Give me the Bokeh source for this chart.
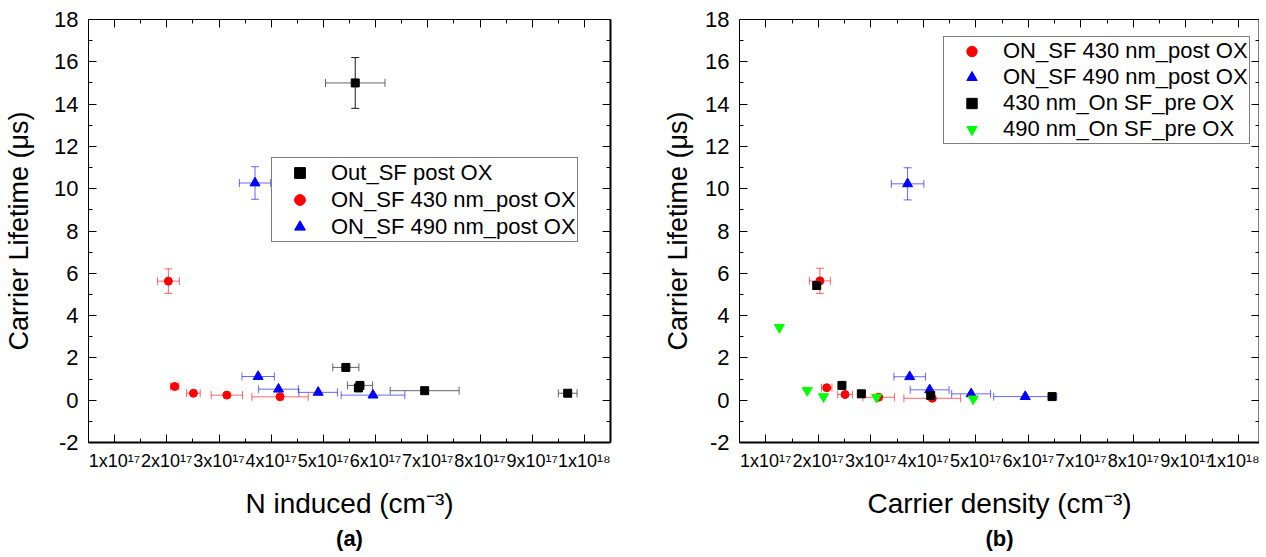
from bokeh.plotting import figure
from bokeh.models import (ColumnDataSource, Whisker, TeeHead, FixedTicker, LinearAxis,
                          Range1d, Legend, LegendItem, Title)
from bokeh.layouts import row
from bokeh.embed import file_html
from bokeh.resources import INLINE

FONT = "Liberation Sans"

# ---------------- ticks ----------------
x_ticks = [1e17, 2e17, 3e17, 4e17, 5e17, 6e17, 7e17, 8e17, 9e17, 1e18]
x_minor = [1.5e17, 2.5e17, 3.5e17, 4.5e17, 5.5e17, 6.5e17, 7.5e17, 8.5e17, 9.5e17]
x_tick_labels = ["1x10¹⁷", "2x10¹⁷", "3x10¹⁷", "4x10¹⁷", "5x10¹⁷",
                 "6x10¹⁷", "7x10¹⁷", "8x10¹⁷", "9x10¹⁷", "1x10¹⁸"]
y_ticks = [-2, 0, 2, 4, 6, 8, 10, 12, 14, 16, 18]
y_minor = [-1, 1, 3, 5, 7, 9, 11, 13, 15, 17]

# ---------------- panel (a) data ----------------
a_out_x = [5.61e17, 5.43e17, 5.70e17, 5.67e17, 6.94e17, 9.68e17]
a_out_y = [15.0, 1.55, 0.70, 0.58, 0.45, 0.33]
a_out_xerr = [0.57e17, 0.25e17, 0.24e17, 0.0, 0.66e17, 0.18e17]
a_out_yerr = [1.2, 0, 0, 0, 0, 0]

a_430_x = [2.03e17, 2.15e17, 2.51e17, 3.15e17, 4.17e17]
a_430_y = [5.63, 0.65, 0.33, 0.24, 0.16]
a_430_xerr = [0.21e17, 0.08e17, 0.13e17, 0.30e17, 0.54e17]
a_430_yerr = [0.58, 0, 0, 0, 0]

a_490_x = [3.69e17, 3.75e17, 4.14e17, 4.90e17, 5.95e17]
a_490_y = [10.27, 1.12, 0.52, 0.37, 0.24]
a_490_xerr = [0.30e17, 0.31e17, 0.38e17, 0.37e17, 0.61e17]
a_490_yerr = [0.77, 0, 0, 0, 0]

# ---------------- panel (b) data ----------------
b_430_x = [2.03e17, 2.16e17, 2.51e17, 3.15e17, 4.17e17]
b_430_y = [5.64, 0.59, 0.27, 0.14, 0.09]
b_430_xerr = [0.20e17, 0.10e17, 0.14e17, 0.30e17, 0.54e17]
b_430_yerr = [0.60, 0, 0, 0, 0]

b_490_x = [3.70e17, 3.74e17, 4.12e17, 4.91e17, 5.94e17]
b_490_y = [10.23, 1.11, 0.49, 0.30, 0.17]
b_490_xerr = [0.31e17, 0.30e17, 0.37e17, 0.37e17, 0.60e17]
b_490_yerr = [0.76, 0, 0, 0, 0]

b_pre430_x = [1.97e17, 2.45e17, 2.82e17, 4.14e17, 6.45e17]
b_pre430_y = [5.42, 0.70, 0.30, 0.22, 0.17]

b_pre490_x = [1.26e17, 1.79e17, 2.10e17, 3.11e17, 4.95e17]
b_pre490_y = [3.44, 0.46, 0.17, 0.14, 0.06]


def style_axis(ax, ticks, minor, labels=None, lw=1):
    ax.ticker = FixedTicker(ticks=ticks, minor_ticks=minor)
    ax.axis_line_color = "black"
    ax.axis_line_width = lw
    ax.major_tick_line_color = "black"
    ax.minor_tick_line_color = "black"
    ax.major_tick_in = 8
    ax.major_tick_out = 0
    ax.minor_tick_in = 4
    ax.minor_tick_out = 0
    ax.major_label_text_color = "black"
    ax.major_label_text_font = FONT
    if labels is None:
        ax.major_label_overrides = {t: "" for t in ticks}
        ax.major_label_text_font_size = "0px"
        ax.major_label_standoff = 0
    else:
        ax.major_label_overrides = labels


def add_errors(p, xs, ys, xerr, yerr, hcolor, vcolor, alpha):
    hx = [(y, x - e, x + e) for x, y, e in zip(xs, ys, xerr) if e > 0]
    if hx:
        src = ColumnDataSource(dict(base=[h[0] for h in hx], lower=[h[1] for h in hx],
                                    upper=[h[2] for h in hx]))
        p.add_layout(Whisker(source=src, base="base", lower="lower", upper="upper",
                             dimension="width", line_color=hcolor, line_alpha=alpha, line_width=1,
                             upper_head=TeeHead(size=8, line_color=hcolor, line_alpha=alpha, line_width=1),
                             lower_head=TeeHead(size=8, line_color=hcolor, line_alpha=alpha, line_width=1)))
    vy = [(x, y - e, y + e) for x, y, e in zip(xs, ys, yerr) if e > 0]
    if vy:
        src = ColumnDataSource(dict(base=[v[0] for v in vy], lower=[v[1] for v in vy],
                                    upper=[v[2] for v in vy]))
        p.add_layout(Whisker(source=src, base="base", lower="lower", upper="upper",
                             dimension="height", line_color=vcolor, line_alpha=alpha, line_width=1,
                             upper_head=TeeHead(size=8, line_color=vcolor, line_alpha=alpha, line_width=1),
                             lower_head=TeeHead(size=8, line_color=vcolor, line_alpha=alpha, line_width=1)))


def make_fig(width, x_end, mbl, mbr, mbb, xlabel, ylabel, ylab_standoff, tag):
    p = figure(width=width, height=557, x_range=Range1d(0.5e17, x_end), y_range=Range1d(-2, 18),
               output_backend="svg", toolbar_location=None, x_axis_type=None, y_axis_type=None,
               min_border_left=mbl, min_border_right=mbr, min_border_top=19, min_border_bottom=mbb)
    p.outline_line_color = None
    p.background_fill_color = "white"
    p.border_fill_color = "white"

    xb = LinearAxis()
    style_axis(xb, x_ticks, x_minor, dict(zip(x_ticks, x_tick_labels)), lw=2)
    xb.major_label_text_font_size = "18px"
    xb.major_label_standoff = 8
    xb.axis_label = xlabel
    xb.axis_label_text_font = FONT
    xb.axis_label_text_font_size = "28px"
    xb.axis_label_text_font_style = "normal"
    xb.axis_label_text_color = "black"
    xb.axis_label_standoff = 14
    p.add_layout(xb, "below")

    yl = LinearAxis()
    style_axis(yl, y_ticks, y_minor, {t: str(t) for t in y_ticks}, lw=1)
    yl.major_label_text_font_size = "22px"
    yl.major_label_standoff = 10
    yl.axis_label = ylabel
    yl.axis_label_text_font = FONT
    yl.axis_label_text_font_size = "27px"
    yl.axis_label_text_font_style = "normal"
    yl.axis_label_text_color = "black"
    yl.axis_label_standoff = ylab_standoff
    p.add_layout(yl, "left")

    xt = LinearAxis()
    style_axis(xt, x_ticks, x_minor, None, lw=1)
    p.add_layout(xt, "above")
    yr = LinearAxis()
    style_axis(yr, y_ticks, y_minor, None, lw=2)
    p.add_layout(yr, "right")

    p.add_layout(Title(text=tag, align="center", text_font=FONT, text_font_size="22px",
                       text_font_style="bold", text_color="black", standoff=5), "below")
    return p


def setup_legend(p, items, loc, lh):
    lg = Legend(items=items, location=loc, border_line_color="black", border_line_width=1,
                background_fill_color="white", background_fill_alpha=1.0,
                label_text_font=FONT, label_text_font_size="22px", label_text_color="black",
                padding=1, spacing=0, margin=0, label_height=lh, glyph_height=lh,
                glyph_width=53, label_standoff=5)
    p.add_layout(lg)


# ---------------- figure (a) ----------------
pa = make_fig(660, 10.5e17, 88, 50, 115, "N induced (cm⁻³)", "Carrier Lifetime (μs)", 17, "(a)")
add_errors(pa, a_out_x, a_out_y, a_out_xerr, a_out_yerr, "#555555", "black", 0.9)
add_errors(pa, a_430_x, a_430_y, a_430_xerr, a_430_yerr, "red", "red", 0.6)
add_errors(pa, a_490_x, a_490_y, a_490_xerr, a_490_yerr, "blue", "blue", 0.6)
ra1 = pa.scatter(a_out_x, a_out_y, marker="square", size=8, color="black")
ra2 = pa.scatter(a_430_x, a_430_y, marker="circle", size=8, color="red")
ra3 = pa.scatter(a_490_x, a_490_y, marker="triangle", size=10, color="blue")
setup_legend(pa, [LegendItem(label="Out_SF post OX", renderers=[ra1]),
                  LegendItem(label="ON_SF 430 nm_post OX", renderers=[ra2]),
                  LegendItem(label="ON_SF 490 nm_post OX", renderers=[ra3])], (183, 200), 27)

# ---------------- figure (b) ----------------
pb = make_fig(599, 10.4e17, 79, 0, 113, "Carrier density (cm⁻³)", "Carrier Lifetime (μs)", 9, "(b)")
add_errors(pb, b_430_x, b_430_y, b_430_xerr, b_430_yerr, "red", "red", 0.6)
add_errors(pb, b_490_x, b_490_y, b_490_xerr, b_490_yerr, "blue", "blue", 0.6)
rb1 = pb.scatter(b_430_x, b_430_y, marker="circle", size=8, color="red")
rb2 = pb.scatter(b_490_x, b_490_y, marker="triangle", size=10, color="blue")
rb3 = pb.scatter(b_pre430_x, b_pre430_y, marker="square", size=8, color="black")
rb4 = pb.scatter(b_pre490_x, b_pre490_y, marker="inverted_triangle", size=10, color="#00ff00")
setup_legend(pb, [LegendItem(label="ON_SF 430 nm_post OX", renderers=[rb1]),
                  LegendItem(label="ON_SF 490 nm_post OX", renderers=[rb2]),
                  LegendItem(label="430 nm_On SF_pre OX", renderers=[rb3]),
                  LegendItem(label="490 nm_On SF_pre OX", renderers=[rb4])], (204, 298), 26)

layout = row(pa, pb)
open("out.html", "w").write(file_html(layout, INLINE))
